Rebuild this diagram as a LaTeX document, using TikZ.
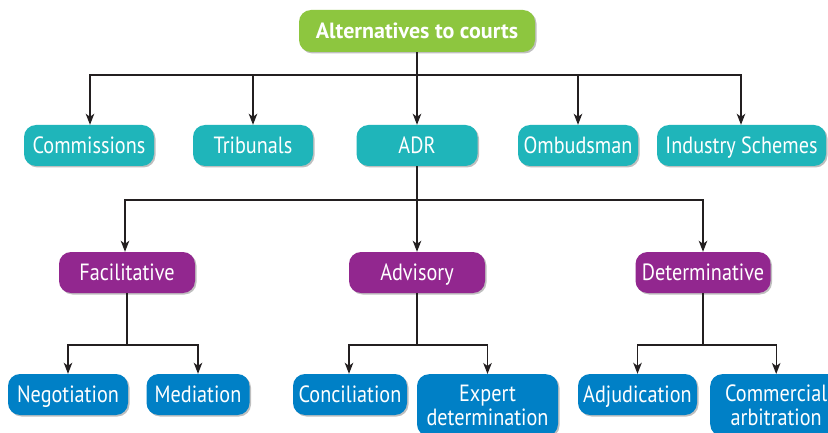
\documentclass[tikz,border=0pt]{standalone}
\usepackage{fontspec}
\setmainfont{PT Sans}[FakeStretch=0.86]
\newfontfamily\topfont{PT Sans}
\usetikzlibrary{arrows.meta,shadows}
\definecolor{cgreen}{HTML}{8DC63F}
\definecolor{cteal}{HTML}{1FB5BA}
\definecolor{cpurple}{HTML}{92278F}
\definecolor{cblue}{HTML}{0080C6}
\definecolor{cline}{HTML}{231F20}
\definecolor{cdark}{HTML}{22607A}
\tikzset{
  box/.style={rectangle, rounded corners=12pt, text=white, inner sep=0pt,
    font=\fontsize{23.5}{24}\selectfont, align=center,
    drop shadow={shadow xshift=1.5pt, shadow yshift=-1.5pt, opacity=0.25, fill=black}},
  oneline/.style={text height=16.5pt, text depth=0pt},
  topbox/.style={box, fill=cgreen, font=\topfont\bfseries\fontsize{22}{24}\selectfont, text height=15.4pt, text depth=0pt},
  tealbox/.style={box, oneline, fill=cteal},
  purpbox/.style={box, oneline, fill=cpurple},
  bluebox/.style={box, fill=cblue},
  conn/.style={draw=cline, line width=1.4pt},
  arr/.style={conn, -{Stealth[length=11pt,width=8.5pt,inset=3pt]}},
}
\begin{document}
\begin{tikzpicture}[x=1pt,y=-1pt]
\clip (0,0) rectangle (828,433);
\fill[white] (0,0) rectangle (828,433);
\fill[cdark] (830,488) circle (61);
% top
\node[topbox, minimum width=236pt, minimum height=42pt] (top) at (417,31) {Alternatives to courts};
% row 2
\node[tealbox, minimum width=130pt, minimum height=41pt] (comm) at (89,145.5) {Commissions};
\node[tealbox, minimum width=120pt, minimum height=41pt] (trib) at (253,145.5) {Tribunals};
\node[tealbox, minimum width=121pt, minimum height=41pt] (adr) at (417,145.5) {ADR};
\node[tealbox, minimum width=120pt, minimum height=41pt] (omb) at (578,145.5) {Ombudsman};
\node[tealbox, minimum width=169pt, minimum height=41pt] (ind) at (741.5,145.5) {Industry Schemes};
% row 3
\node[purpbox, minimum width=136pt, minimum height=41pt] (fac) at (127,272.5) {Facilitative};
\node[purpbox, minimum width=136pt, minimum height=41pt] (adv) at (417,272.5) {Advisory};
\node[purpbox, minimum width=135pt, minimum height=41pt] (det) at (703,272.5) {Determinative};
% row 4
\node[bluebox, oneline, minimum width=120pt, minimum height=41pt] (neg) at (68,394.5) {Negotiation};
\node[bluebox, oneline, minimum width=103pt, minimum height=41pt] (med) at (198,394.5) {Mediation};
\node[bluebox, oneline, minimum width=114pt, minimum height=41pt] (conc) at (350,394.5) {Conciliation};
\node[bluebox, minimum width=141pt, minimum height=62pt, anchor=north] (exp) at (487.5,374) {Expert\\determination};
\node[bluebox, oneline, minimum width=119pt, minimum height=41pt] (adj) at (637.5,394.5) {Adjudication};
\node[bluebox, minimum width=132pt, minimum height=62pt, anchor=north west] (carb) at (710,374) {Commercial\\arbitration};
% junctions
\coordinate (j1) at (417,75);
\coordinate (j2) at (417,200);
\coordinate (j3) at (127,345);
\coordinate (j4) at (417,345);
\coordinate (j5) at (703,345);
% connectors level 1
\draw[conn] (top.south) -- (j1);
\draw[arr] (j1) -| ([xshift=1pt]comm.north);
\draw[arr] (j1) -| (trib.north);
\draw[arr] (j1) -- (adr.north);
\draw[arr] (j1) -| (omb.north);
\draw[arr] (j1) -| ([xshift=-0.5pt]ind.north);
% level 2
\draw[conn] (adr.south) -- (j2);
\draw[arr] (j2) -| ([xshift=-2pt]fac.north);
\draw[arr] (j2) -- (adv.north);
\draw[arr] (j2) -| (det.north);
% level 3
\draw[conn] (fac.south) -- (j3);
\draw[arr] (j3) -| (neg.north);
\draw[arr] (j3) -| (med.north);
\draw[conn] (adv.south) -- (j4);
\draw[arr] (j4) -| ([xshift=-1pt]conc.north);
\draw[arr] (j4) -| (exp.north);
\draw[conn] (det.south) -- (j5);
\draw[arr] (j5) -| (adj.north);
\draw[arr] (j5) -| (carb.north);
\end{tikzpicture}
\end{document}
